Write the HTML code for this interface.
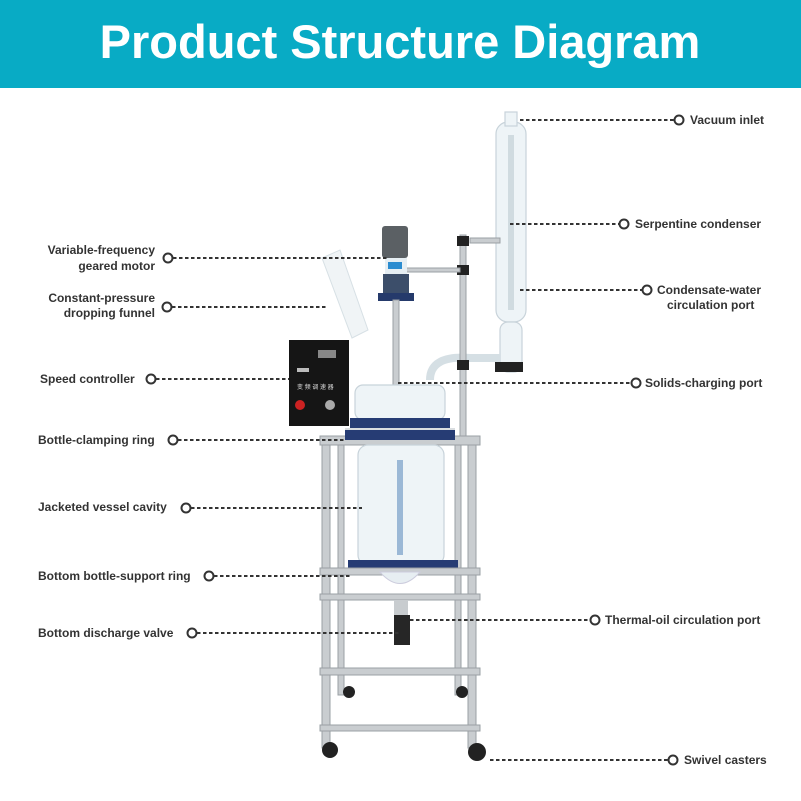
<!DOCTYPE html>
<html><head><meta charset="utf-8"><style>
html,body{margin:0;padding:0;background:#fff}
svg{display:block}
.l{font-family:"Liberation Sans",sans-serif;font-weight:bold;font-size:12px;fill:#333}
.d{stroke:#333;stroke-width:2;stroke-dasharray:3.5 2.5;fill:none}
.c{fill:#fff;stroke:#333;stroke-width:2}
.g{fill:#eef4f7;stroke:#c8d3da;stroke-width:1.2}
.s{fill:#c9cdd0;stroke:#9aa0a4;stroke-width:1}
</style></head><body>
<svg width="801" height="801" viewBox="0 0 801 801" xmlns="http://www.w3.org/2000/svg">
<rect x="0" y="0" width="801" height="88" fill="#08abc5"/>
<text x="400" y="58" text-anchor="middle" font-family="Liberation Sans,sans-serif" font-weight="bold" font-size="47" fill="#fff">Product Structure Diagram</text>

<rect class="g" x="496" y="122" width="30" height="200" rx="12"/>
<rect class="g" x="505" y="112" width="12" height="14"/>
<path d="M511 135 L511 310" stroke="#d0dbe0" stroke-width="6"/>
<rect class="g" x="500" y="322" width="22" height="50" rx="8"/>
<path d="M430 380 Q430 355 470 358 L500 358" stroke="#d5dfe4" stroke-width="8" fill="none"/>
<rect x="495" y="362" width="28" height="10" fill="#222"/>
<rect class="s" x="460" y="235" width="6" height="205"/>
<rect x="457" y="236" width="12" height="10" fill="#222"/>
<rect x="457" y="265" width="12" height="10" fill="#222"/>
<rect x="457" y="360" width="12" height="10" fill="#222"/>
<rect class="s" x="405" y="268" width="55" height="4"/>
<rect class="s" x="470" y="238" width="30" height="5"/>
<rect x="382" y="226" width="26" height="32" rx="3" fill="#5b6064"/>
<rect x="385" y="258" width="22" height="16" fill="#e6eef3"/>
<rect x="388" y="262" width="14" height="7" fill="#2b8cd0"/>
<rect x="383" y="274" width="26" height="20" fill="#3c4e6a"/>
<rect x="378" y="293" width="36" height="8" fill="#253a6b"/>
<rect class="s" x="393" y="300" width="6" height="90"/>
<path d="M322 258 L340 250 L368 330 L352 338 Z" fill="#f0f4f6" stroke="#d7e0e5"/>
<rect x="289" y="340" width="60" height="86" fill="#151515"/>
<rect x="318" y="350" width="18" height="8" fill="#888"/>
<rect x="297" y="368" width="12" height="4" fill="#bbb"/>
<text x="297" y="389" font-size="6" fill="#ddd" font-family="Liberation Sans,sans-serif">变 频 调 速 器</text>
<circle cx="300" cy="405" r="5" fill="#c22"/>
<circle cx="330" cy="405" r="5" fill="#aaa"/>
<rect class="g" x="355" y="385" width="90" height="35" rx="8"/>
<rect x="350" y="418" width="100" height="10" fill="#263c74"/>
<rect x="345" y="428" width="110" height="6" fill="#d9dde0"/>
<rect class="s" x="322" y="438" width="8" height="310"/>
<rect class="s" x="468" y="438" width="8" height="310"/>
<rect class="s" x="338" y="445" width="6" height="250"/>
<rect class="s" x="455" y="445" width="6" height="250"/>
<rect class="s" x="320" y="436" width="160" height="9"/>
<rect x="345" y="430" width="110" height="10" fill="#263c74"/>
<rect class="g" x="358" y="445" width="86" height="120" rx="10"/>
<rect x="397" y="460" width="6" height="95" fill="#9bb8d6"/>
<rect x="348" y="560" width="110" height="10" fill="#263c74"/>
<rect class="s" x="320" y="568" width="160" height="7"/>
<rect class="s" x="320" y="594" width="160" height="6"/>
<path d="M380 572 Q400 595 420 572 Z" fill="#e7eef2" stroke="#ccd"/>
<rect x="394" y="600" width="14" height="15" fill="#c8cccf"/>
<rect x="394" y="615" width="16" height="30" fill="#262626"/>
<rect class="s" x="320" y="668" width="160" height="7"/>
<rect class="s" x="320" y="725" width="160" height="6"/>
<circle cx="349" cy="692" r="6" fill="#222"/>
<circle cx="462" cy="692" r="6" fill="#222"/>
<circle cx="330" cy="750" r="8" fill="#222"/>
<circle cx="477" cy="752" r="9" fill="#222"/>

<text class="l" x="155" y="254" text-anchor="end">Variable-frequency</text>
<text class="l" x="155" y="270" text-anchor="end">geared motor</text>
<line class="d" x1="173" y1="258" x2="388" y2="258"/><circle class="c" cx="168" cy="258" r="4.5"/>
<text class="l" x="155" y="302" text-anchor="end">Constant-pressure</text>
<text class="l" x="155" y="317" text-anchor="end">dropping funnel</text>
<line class="d" x1="172" y1="307" x2="328" y2="307"/><circle class="c" cx="167" cy="307" r="4.5"/>
<text class="l" x="40" y="383">Speed controller</text>
<line class="d" x1="156" y1="379" x2="289" y2="379"/><circle class="c" cx="151" cy="379" r="4.5"/>
<text class="l" x="38" y="444">Bottle-clamping ring</text>
<line class="d" x1="178" y1="440" x2="345" y2="440"/><circle class="c" cx="173" cy="440" r="4.5"/>
<text class="l" x="38" y="511">Jacketed vessel cavity</text>
<line class="d" x1="191" y1="508" x2="362" y2="508"/><circle class="c" cx="186" cy="508" r="4.5"/>
<text class="l" x="38" y="580">Bottom bottle-support ring</text>
<line class="d" x1="214" y1="576" x2="350" y2="576"/><circle class="c" cx="209" cy="576" r="4.5"/>
<text class="l" x="38" y="637">Bottom discharge valve</text>
<line class="d" x1="197" y1="633" x2="400" y2="633"/><circle class="c" cx="192" cy="633" r="4.5"/>

<line class="d" x1="520" y1="120" x2="674" y2="120"/><circle class="c" cx="679" cy="120" r="4.5"/>
<text class="l" x="690" y="124">Vacuum inlet</text>
<line class="d" x1="510" y1="224" x2="619" y2="224"/><circle class="c" cx="624" cy="224" r="4.5"/>
<text class="l" x="635" y="228">Serpentine condenser</text>
<line class="d" x1="520" y1="290" x2="642" y2="290"/><circle class="c" cx="647" cy="290" r="4.5"/>
<text class="l" x="657" y="294">Condensate-water</text>
<text class="l" x="667" y="309">circulation port</text>
<line class="d" x1="398" y1="383" x2="631" y2="383"/><circle class="c" cx="636" cy="383" r="4.5"/>
<text class="l" x="645" y="387">Solids-charging port</text>
<line class="d" x1="410" y1="620" x2="590" y2="620"/><circle class="c" cx="595" cy="620" r="4.5"/>
<text class="l" x="605" y="624">Thermal-oil circulation port</text>
<line class="d" x1="490" y1="760" x2="668" y2="760"/><circle class="c" cx="673" cy="760" r="4.5"/>
<text class="l" x="684" y="764">Swivel casters</text>
</svg>
</body></html>
